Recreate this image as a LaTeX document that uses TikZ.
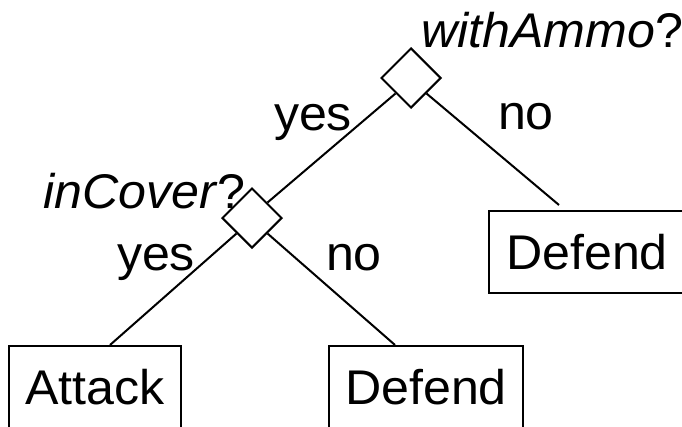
\documentclass[tikz,border=0pt]{standalone}
\usepackage{fontspec}
\setmainfont[FakeStretch=1.03]{Liberation Sans}
\usetikzlibrary{shapes.geometric}

\begin{document}
\begin{tikzpicture}[x=1pt, y=-1pt, line width=2pt,
        txt/.style = {font=\fontsize{48.7}{58}\selectfont, inner sep=0pt},
        test/.style = {draw, diamond, minimum width=60pt, minimum height=60pt, inner sep=0pt},
        leaf/.style = {draw, rectangle, txt, inner xsep=16.5pt, minimum height=82pt}]
                \useasboundingbox (0, 0) rectangle (682, 426);
                \clip (0, 0) rectangle (682, 426);

                \node[test] at (411, 78) (ammo) {};
                \node[test] at (252, 218) (cover) {};
                \node[leaf, minimum width=196pt] at (587, 252) (defR) {Defend};
                \node[leaf] at (95, 387) (attack) {Attack};
                \node[leaf] at (426, 387) (defL) {Defend};

                \node[txt, anchor=base west] at (420, 47) (qAmmo) {\textit{withAmmo}?};
                \node[txt, anchor=base west] at (42, 208) (qCover) {\textit{inCover}?};
                \node[txt, anchor=base west] at (273, 130) (yesA) {yes};
                \node[txt, anchor=base west] at (497, 129) (noA) {no};
                \node[txt, anchor=base west] at (116, 270) (yesC) {yes};
                \node[txt, anchor=base west] at (325, 270) (noC) {no};

                \draw (ammo.south west) -- (cover.north east);
                \draw (ammo.south east) -- ([xshift=-28pt, yshift=5pt]defR.north);
                \draw (cover.south west) -- ([xshift=15pt]attack.north);
                \draw (cover.south east) -- ([xshift=-31pt]defL.north);
\end{tikzpicture}
\end{document}
